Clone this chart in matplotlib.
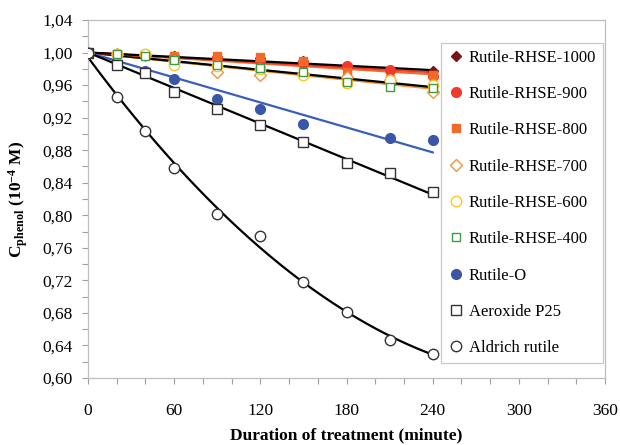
import numpy as np
import matplotlib
matplotlib.use("Agg")
import matplotlib.pyplot as plt
from matplotlib.ticker import FuncFormatter, MultipleLocator

plt.rcParams['font.family'] = ['Liberation Serif', 'DejaVu Serif']
plt.rcParams['mathtext.fontset'] = 'custom'
plt.rcParams['mathtext.rm'] = 'Liberation Serif'
plt.rcParams['mathtext.bf'] = 'Liberation Serif:bold'
plt.rcParams['mathtext.it'] = 'Liberation Serif:italic'

t = np.array([0, 20, 40, 60, 90, 120, 150, 180, 210, 240], dtype=float)

rhse1000 = [1.000, 0.998, 0.997, 0.996, 0.994, 0.993, 0.990, 0.982, 0.978, 0.977]
rhse900 = [1.000, 0.998, 0.998, 0.995, 0.993, 0.990, 0.987, 0.983, 0.979, 0.971]
rhse800 = [1.000, 0.998, 0.997, 0.996, 0.996, 0.995, 0.990, 0.976, 0.968, 0.972]
rhse700 = [1.000, 0.998, 0.997, 0.990, 0.976, 0.972, 0.974, 0.970, 0.966, 0.952]
rhse600 = [1.000, 0.998, 0.998, 0.985, 0.983, 0.980, 0.972, 0.962, 0.966, 0.960]
rhse400 = [1.000, 0.998, 0.996, 0.991, 0.985, 0.981, 0.976, 0.964, 0.958, 0.957]
rutile_o = [1.000, 0.985, 0.977, 0.967, 0.943, 0.930, 0.912, np.nan, 0.895, 0.892]
p25 = [1.000, 0.985, 0.975, 0.952, 0.931, 0.911, 0.890, 0.864, 0.852, 0.828]
aldrich = [1.000, 0.945, 0.903, 0.858, 0.801, 0.775, 0.718, 0.681, 0.647, 0.630]

labels = ['Rutile-RHSE-1000', 'Rutile-RHSE-900', 'Rutile-RHSE-800', 'Rutile-RHSE-700',
          'Rutile-RHSE-600', 'Rutile-RHSE-400', 'Rutile-O', 'Aeroxide P25', 'Aldrich rutile']
xticks = [0, 60, 120, 180, 240, 300, 360]
yticks = [0.60, 0.64, 0.68, 0.72, 0.76, 0.80, 0.84, 0.88, 0.92, 0.96, 1.00, 1.04]

series = [rhse1000, rhse900, rhse800, rhse700, rhse600, rhse400, rutile_o, p25, aldrich]
styles = [
    dict(marker='D', mfc='#7B1315', mec='#7B1315', ms=5.5),
    dict(marker='o', mfc='#F23A2A', mec='#F23A2A', ms=7),
    dict(marker='s', mfc='#F26A2A', mec='#F26A2A', ms=6),
    dict(marker='D', mfc='white', mec='#F7923A', ms=6, mew=1.0),
    dict(marker='o', mfc='white', mec='#FFC423', ms=7.5, mew=1.0),
    dict(marker='s', mfc='white', mec='#3E9A45', ms=6, mew=1.0),
    dict(marker='o', mfc='#3A56A8', mec='#3A56A8', ms=7),
    dict(marker='s', mfc='white', mec='#333333', ms=7.5, mew=1.0),
    dict(marker='o', mfc='white', mec='#333333', ms=7.5, mew=1.0),
]
line_colors = ['black', '#F23A2A', '#F26A2A', '#F7923A', 'black', '#3E9A45', '#3A5FB8', 'black', 'black']
line_order = [5, 3, 4, 2, 1, 0, 6, 7, 8]

fig = plt.figure(figsize=(6.2, 4.45), dpi=100)
ax = fig.add_axes([0.142, 0.1506, 0.834, 0.8045])

tf = np.linspace(0, 240, 200)
for i in line_order:
    y = np.array(series[i], dtype=float)
    m = ~np.isnan(y)
    if i == 8:
        c = np.polyfit(t[m], y[m], 2)
        yf = np.polyval(c, tf)
    else:
        d = y[m] - 1.0
        b = np.sum(t[m] * d) / np.sum(t[m] ** 2)
        yf = 1.0 + b * tf
    ax.plot(tf, yf, color=line_colors[i], lw=1.6, zorder=2)

handles = []
for y, st, lab in zip(series, styles, labels):
    h, = ax.plot(t, y, linestyle='none', label=lab, zorder=3, **st)
    handles.append(h)

ax.set_xlim(0, 360)
ax.set_ylim(0.60, 1.04)
ax.set_xticks(xticks)
ax.set_yticks(yticks)
ax.xaxis.set_minor_locator(MultipleLocator(20))
ax.yaxis.set_minor_locator(MultipleLocator(0.02))
ax.yaxis.set_major_formatter(FuncFormatter(lambda v, p: f"{v:.2f}".replace('.', ',')))
ax.tick_params(axis='both', which='both', direction='out', length=4, width=0.8,
               color='#A0A0A0', labelsize=12.5, pad=7)
ax.tick_params(axis='x', pad=14)
for s in ax.spines.values():
    s.set_color('#BDBDBD')
    s.set_linewidth(0.9)

ax.set_xlabel('Duration of treatment (minute)', fontsize=12.5, fontweight='bold', labelpad=6)
ax.set_ylabel(r'C$_{\mathbf{phenol}}$ (10$^{\mathbf{-4}}$ M)', fontsize=12.5, fontweight='bold', labelpad=9)

leg = ax.legend(handles=handles, loc='upper right', bbox_to_anchor=(0.996, 0.936),
                borderaxespad=0, fontsize=12, frameon=True, fancybox=False, edgecolor='#C8C8C8',
                framealpha=1.0, labelspacing=1.22, handlelength=1.0, handletextpad=0.3,
                borderpad=0.4, numpoints=1)
leg.get_frame().set_linewidth(0.9)

fig.savefig('out.png', dpi=100)
